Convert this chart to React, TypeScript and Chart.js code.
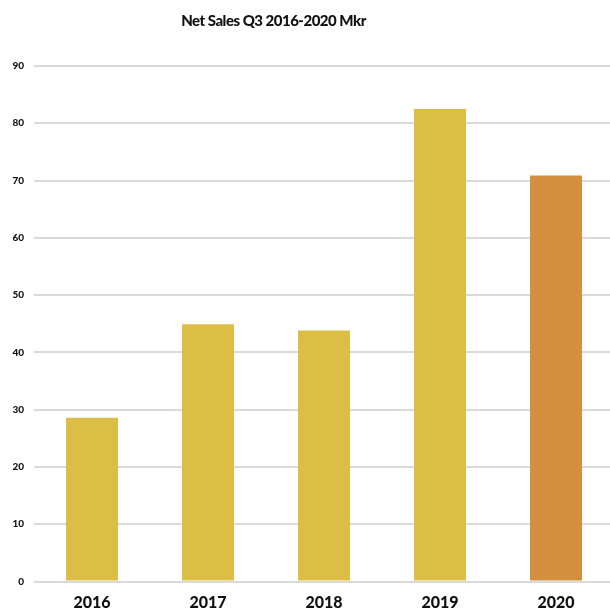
import React, { useEffect, useRef } from "react";
import { Chart, registerables } from "chart.js";

Chart.register(...registerables);

const years = ["2016", "2017", "2018", "2019", "2020"];
const netSales = [28.6, 44.9, 43.8, 82.5, 70.9];
const barColors = ["#DCBE47", "#DCBE47", "#DCBE47", "#DCBE47", "#D48F3E"];
const yTicks = [0, 10, 20, 30, 40, 50, 60, 70, 80, 90];
const titleText = "Net Sales Q3 2016-2020 Mkr";

const FONT = "Lato, 'DejaVu Sans', sans-serif";

// Title drawn slightly left of centre, above the plot
const titlePlugin = {
  id: "leftTitle",
  afterDraw(chart: any) {
    const ctx = chart.ctx;
    ctx.save();
    ctx.font = `900 15px ${FONT}`;
    try {
      ctx.letterSpacing = "-0.5px";
    } catch (e) {
      /* older canvas */
    }
    ctx.fillStyle = "#111";
    ctx.textAlign = "center";
    ctx.textBaseline = "middle";
    ctx.fillText(titleText, 273.5, 21);
    ctx.restore();
  },
};

export default function App() {
  const ref = useRef<HTMLCanvasElement | null>(null);

  useEffect(() => {
    if (!ref.current) return;
    const chart = new Chart(ref.current, {
      type: "bar",
      data: {
        labels: years,
        datasets: [
          {
            data: netSales,
            backgroundColor: barColors,
            borderWidth: 0,
            categoryPercentage: 1,
            barPercentage: 0.448,
          },
        ],
      },
      options: {
        animation: false,
        responsive: false,
        layout: { padding: { top: 66, right: 6, left: 0, bottom: 0 } },
        plugins: {
          legend: { display: false },
          title: { display: false },
          tooltip: { enabled: false },
        },
        scales: {
          x: {
            grid: { display: false, drawTicks: false },
            border: { display: false },
            ticks: {
              padding: 12,
              color: "#111",
              font: { family: FONT, size: 16, weight: "900" },
            },
            afterFit(scale: any) {
              scale.height = 28.5;
            },
          },
          y: {
            min: 0,
            max: 90,
            afterBuildTicks(scale: any) {
              scale.ticks = yTicks.map((v) => ({ value: v }));
            },
            grid: { color: "#DADADA", lineWidth: 2, drawTicks: false },
            border: { display: false },
            ticks: {
              padding: 10,
              color: "#111",
              font: { family: FONT, size: 10, weight: "900" },
            },
            afterFit(scale: any) {
              scale.width = 34;
            },
          },
        },
      },
      plugins: [titlePlugin],
    });
    return () => chart.destroy();
  }, []);

  return (
    <div
      style={{
        position: "fixed",
        left: 0,
        top: 0,
        width: 610,
        height: 610,
        overflow: "hidden",
        background: "#fff",
      }}
    >
      <canvas ref={ref} width={620} height={610} style={{ display: "block" }} />
    </div>
  );
}
